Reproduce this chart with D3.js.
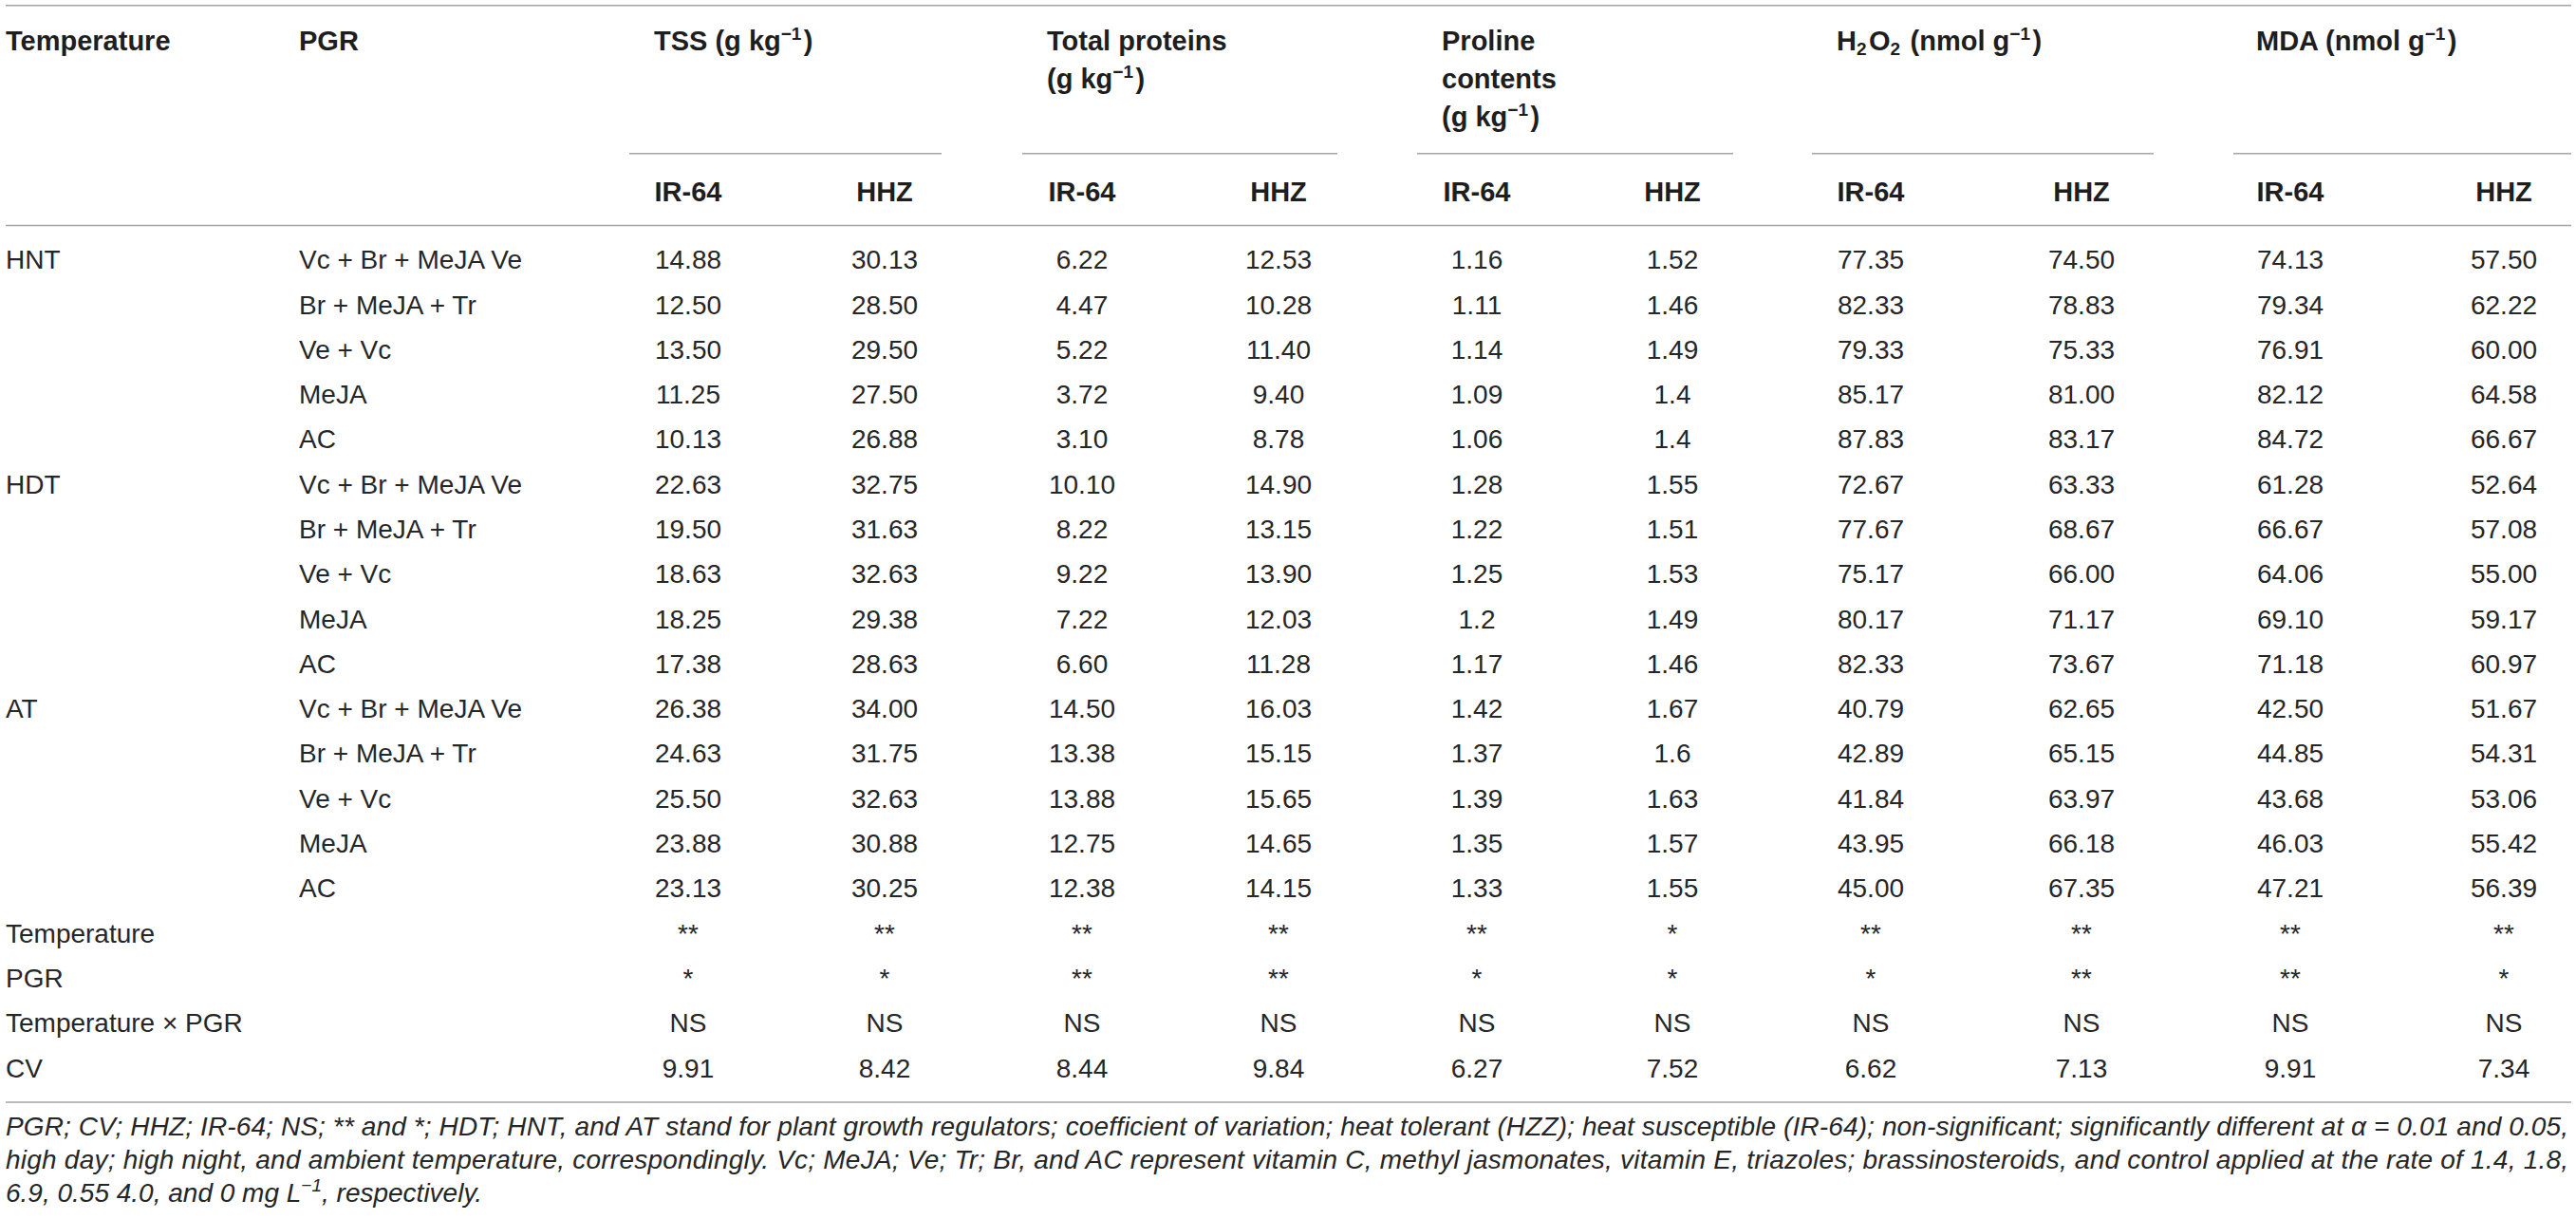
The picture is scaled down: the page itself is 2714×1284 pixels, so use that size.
<!DOCTYPE html>
<html>
<head>
<meta charset="utf-8">
<script src="https://cdn.jsdelivr.net/npm/d3@7/dist/d3.min.js"></script>
<style>
  html, body { margin: 0; padding: 0; background: #ffffff; }
  svg text { font-family: "Liberation Sans", Arial, Helvetica, sans-serif; }
</style>
</head>
<body>
<svg id="chart" width="2714" height="1284"></svg>
<script>
// ---------------- DATA ----------------
const temperatures = ["HNT", "HDT", "AT"];
const pgrs = ["Vc + Br + MeJA Ve", "Br + MeJA + Tr", "Ve + Vc", "MeJA", "AC"];
const cultivars = ["IR-64", "HHZ"];
const measures = ["TSS", "Total proteins", "Proline contents", "H2O2", "MDA"];

const tss_IR64 = [14.88, 12.50, 13.50, 11.25, 10.13, 22.63, 19.50, 18.63, 18.25, 17.38, 26.38, 24.63, 25.50, 23.88, 23.13];
const tss_HHZ  = [30.13, 28.50, 29.50, 27.50, 26.88, 32.75, 31.63, 32.63, 29.38, 28.63, 34.00, 31.75, 32.63, 30.88, 30.25];
const tp_IR64  = [6.22, 4.47, 5.22, 3.72, 3.10, 10.10, 8.22, 9.22, 7.22, 6.60, 14.50, 13.38, 13.88, 12.75, 12.38];
const tp_HHZ   = [12.53, 10.28, 11.40, 9.40, 8.78, 14.90, 13.15, 13.90, 12.03, 11.28, 16.03, 15.15, 15.65, 14.65, 14.15];
const pro_IR64 = [1.16, 1.11, 1.14, 1.09, 1.06, 1.28, 1.22, 1.25, 1.2, 1.17, 1.42, 1.37, 1.39, 1.35, 1.33];
const pro_HHZ  = [1.52, 1.46, 1.49, 1.4, 1.4, 1.55, 1.51, 1.53, 1.49, 1.46, 1.67, 1.6, 1.63, 1.57, 1.55];
const h2o2_IR64 = [77.35, 82.33, 79.33, 85.17, 87.83, 72.67, 77.67, 75.17, 80.17, 82.33, 40.79, 42.89, 41.84, 43.95, 45.00];
const h2o2_HHZ  = [74.50, 78.83, 75.33, 81.00, 83.17, 63.33, 68.67, 66.00, 71.17, 73.67, 62.65, 65.15, 63.97, 66.18, 67.35];
const mda_IR64  = [74.13, 79.34, 76.91, 82.12, 84.72, 61.28, 66.67, 64.06, 69.10, 71.18, 42.50, 44.85, 43.68, 46.03, 47.21];
const mda_HHZ   = [57.50, 62.22, 60.00, 64.58, 66.67, 52.64, 57.08, 55.00, 59.17, 60.97, 51.67, 54.31, 53.06, 55.42, 56.39];

const statLabels = ["Temperature", "PGR", "Temperature \u00d7 PGR", "CV"];
const stat_Temperature = ["**", "**", "**", "**", "**", "*", "**", "**", "**", "**"];
const stat_PGR         = ["*", "*", "**", "**", "*", "*", "*", "**", "**", "*"];
const stat_Interaction = ["NS", "NS", "NS", "NS", "NS", "NS", "NS", "NS", "NS", "NS"];
const stat_CV          = [9.91, 8.42, 8.44, 9.84, 6.27, 7.52, 6.62, 7.13, 9.91, 7.34];

const footnoteLines = [
  "PGR; CV; HHZ; IR-64; NS; ** and *; HDT; HNT, and AT stand for plant growth regulators; coefficient of variation; heat tolerant (HZZ); heat susceptible (IR-64); non-significant; significantly different at \u03b1 = 0.01 and 0.05,",
  "high day; high night, and ambient temperature, correspondingly. Vc; MeJA; Ve; Tr; Br, and AC represent vitamin C, methyl jasmonates, vitamin E, triazoles; brassinosteroids, and control applied at the rate of 1.4, 1.8,"
];

// ---------------- LAYOUT ----------------
const svg = d3.select("#chart");
const ink = "#1e1e1e";
const bodyInk = "#262626";
const rule = "#a4a4a4";
const fsBody = 28, fsHead = 29, fsSup = 19, fsNote = 28;

const valueColumns = [
  { vals: tss_IR64, fmt: v => v.toFixed(2) }, { vals: tss_HHZ, fmt: v => v.toFixed(2) },
  { vals: tp_IR64, fmt: v => v.toFixed(2) },  { vals: tp_HHZ, fmt: v => v.toFixed(2) },
  { vals: pro_IR64, fmt: v => String(v) },    { vals: pro_HHZ, fmt: v => String(v) },
  { vals: h2o2_IR64, fmt: v => v.toFixed(2) },{ vals: h2o2_HHZ, fmt: v => v.toFixed(2) },
  { vals: mda_IR64, fmt: v => v.toFixed(2) }, { vals: mda_HHZ, fmt: v => v.toFixed(2) }
];
const colKeys = d3.range(valueColumns.length);
const x = d3.scaleOrdinal().domain(colKeys)
  .range([725, 932, 1140, 1347, 1556, 1762, 1971, 2193, 2413, 2638]);
const nRows = temperatures.length * pgrs.length + statLabels.length;
const y = d3.scaleLinear().domain([0, nRows - 1]).range([283.3, 1134.5]);

const xTemp = 6, xPgr = 315;
const groupLines = [[663, 992], [1077, 1409], [1493, 1826], [1909, 2269], [2353, 2709]];

// ---------------- RULES ----------------
function hline(x1, x2, yy) {
  svg.append("line").attr("x1", x1).attr("x2", x2).attr("y1", yy).attr("y2", yy)
    .attr("stroke", rule).attr("stroke-width", 1.6);
}
hline(6, 2709, 5.7);
groupLines.forEach(g => hline(g[0], g[1], 161.7));
hline(6, 2709, 237.5);
hline(6, 2709, 1161);

// ---------------- HEADER ----------------
function headText(xx, yy, parts, anchor) {
  const t = svg.append("text").attr("x", xx).attr("y", yy)
    .attr("font-size", fsHead).attr("font-weight", "bold").attr("fill", ink)
    .attr("text-anchor", anchor || "start");
  parts.forEach(p => {
    if (typeof p === "string") t.append("tspan").text(p);
    else if (p.sup) {
      t.append("tspan").attr("font-size", fsSup).attr("dy", -11).text(p.sup);
      t.append("tspan").attr("dy", 11).text("\u200a");
    } else if (p.sub) {
      t.append("tspan").attr("font-size", fsSup).attr("dy", 5).text(p.sub);
      t.append("tspan").attr("dy", -5).text("\u200a");
    }
  });
  return t;
}
const hb = [53, 93, 133];
headText(xTemp, hb[0], ["Temperature"]);
headText(xPgr, hb[0], ["PGR"]);
const gl = [689, 1103, 1519, 1935, 2377];
headText(gl[0], hb[0], ["TSS (g kg", { sup: "\u22121" }, ")"]);
headText(gl[1], hb[0], ["Total proteins"]);
headText(gl[1], hb[1], ["(g kg", { sup: "\u22121" }, ")"]);
headText(gl[2], hb[0], ["Proline"]);
headText(gl[2], hb[1], ["contents"]);
headText(gl[2], hb[2], ["(g kg", { sup: "\u22121" }, ")"]);
headText(gl[3], hb[0], ["H", { sub: "2" }, "O", { sub: "2" }, " (nmol g", { sup: "\u22121" }, ")"]);
headText(gl[4], hb[0], ["MDA (nmol g", { sup: "\u22121" }, ")"]);

svg.append("g").selectAll("text").data(colKeys).join("text")
  .attr("x", d => x(d)).attr("y", 212.3)
  .attr("text-anchor", "middle").attr("font-size", fsHead).attr("font-weight", "bold")
  .attr("fill", ink).text(d => cultivars[d % 2]);

// ---------------- BODY ----------------
const bodyRows = [];
temperatures.forEach((t, ti) => pgrs.forEach((p, pi) => bodyRows.push({ t: pi === 0 ? t : "", p, i: ti * pgrs.length + pi })));

const body = svg.append("g").attr("font-size", fsBody).attr("fill", bodyInk);
body.selectAll("text.temp").data(bodyRows.filter(r => r.t)).join("text")
  .attr("class", "temp").attr("x", xTemp).attr("y", r => y(r.i)).text(r => r.t);
body.selectAll("text.pgr").data(bodyRows).join("text")
  .attr("class", "pgr").attr("x", xPgr).attr("y", r => y(r.i)).text(r => r.p);

const cells = [];
bodyRows.forEach(r => colKeys.forEach(c => cells.push({ r: r.i, c, s: valueColumns[c].fmt(valueColumns[c].vals[r.i]) })));
const statRows = [stat_Temperature, stat_PGR, stat_Interaction, stat_CV.map(v => v.toFixed(2))];
statRows.forEach((arr, si) => arr.forEach((s, c) => cells.push({ r: bodyRows.length + si, c, s })));

body.selectAll("text.cell").data(cells).join("text")
  .attr("class", "cell").attr("x", d => x(d.c)).attr("y", d => y(d.r))
  .attr("text-anchor", "middle").text(d => d.s);

body.selectAll("text.stat").data(statLabels).join("text")
  .attr("class", "stat").attr("x", xTemp).attr("y", (d, i) => y(bodyRows.length + i)).text(d => d);

// ---------------- FOOTNOTE ----------------
const note = svg.append("g").attr("font-size", fsNote).attr("font-style", "italic").attr("fill", bodyInk);
footnoteLines.forEach((line, i) => {
  note.append("text").attr("x", 6).attr("y", 1196 + i * 35)
    .attr("textLength", 2700).attr("lengthAdjust", "spacing").text(line);
});
const last = note.append("text").attr("x", 6).attr("y", 1266);
last.append("tspan").text("6.9, 0.55 4.0, and 0 mg L");
last.append("tspan").attr("font-size", 19).attr("dy", -11).text("\u22121");
last.append("tspan").attr("dy", 11).text(", respectively.");
</script>
</body>
</html>
